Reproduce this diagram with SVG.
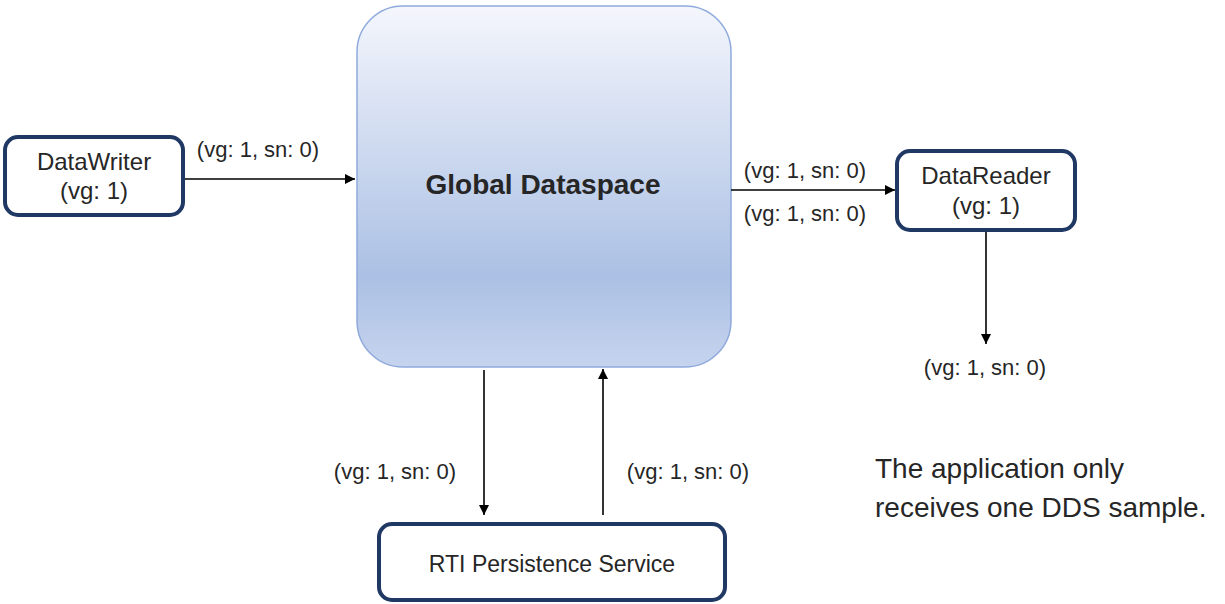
<svg xmlns="http://www.w3.org/2000/svg" width="1225" height="604" viewBox="0 0 1225 604">
<style>
.node{fill:#ffffff;stroke:#203864;stroke-width:4}
.t{font-family:"Liberation Sans",Arial,sans-serif;fill:#262626}
.nt{font-size:24px;text-anchor:middle}
.lbl{font-size:22px;text-anchor:middle}
.conn{stroke:#000;stroke-width:1.6;fill:none;marker-end:url(#ah)}
</style>
<defs>
<linearGradient id="gd" x1="0" y1="0" x2="0" y2="1">
<stop offset="0" stop-color="#f4f6fc"/>
<stop offset="0.75" stop-color="#abc0e4"/>
<stop offset="1" stop-color="#c6d4ee"/>
</linearGradient>
<marker id="ah" markerWidth="10" markerHeight="10" refX="10" refY="5" orient="auto" markerUnits="userSpaceOnUse">
<path d="M0,0 L10,5 L0,10 Z" fill="#000"/>
</marker>
</defs>
<rect width="1225" height="604" fill="#fff"/>
<g id="global-dataspace">
<rect x="357" y="6" width="374" height="361" rx="46" ry="46" fill="url(#gd)" stroke="#8faadc" stroke-width="1.5"/>
<text class="t" x="543" y="194" font-size="28" font-weight="bold" text-anchor="middle" fill="#111">Global Dataspace</text>
</g>
<g id="datawriter">
<rect class="node" x="5" y="137" width="178" height="78" rx="13"/>
<text class="t nt" x="94" y="170">DataWriter</text>
<text class="t nt" x="94" y="199">(vg: 1)</text>
</g>
<g id="datareader">
<rect class="node" x="897" y="151" width="178" height="79" rx="13"/>
<text class="t nt" x="986" y="184">DataReader</text>
<text class="t nt" x="986" y="214">(vg: 1)</text>
</g>
<g id="persistence-service">
<rect class="node" x="379" y="524" width="346" height="76" rx="13"/>
<text class="t" x="552" y="572" font-size="23" text-anchor="middle">RTI Persistence Service</text>
</g>
<g id="connectors">
<line class="conn" x1="185" y1="179" x2="355" y2="179"/>
<line class="conn" x1="731" y1="190" x2="895" y2="190"/>
<line class="conn" x1="986" y1="232" x2="986" y2="344"/>
<line class="conn" x1="484" y1="370" x2="484" y2="515"/>
<line class="conn" x1="603" y1="515" x2="603" y2="369"/>
</g>
<g id="labels">
<text class="t lbl" x="258" y="157">(vg: 1, sn: 0)</text>
<text class="t lbl" x="805" y="178">(vg: 1, sn: 0)</text>
<text class="t lbl" x="805" y="221">(vg: 1, sn: 0)</text>
<text class="t lbl" x="985" y="375">(vg: 1, sn: 0)</text>
<text class="t lbl" x="395" y="479">(vg: 1, sn: 0)</text>
<text class="t lbl" x="688" y="479">(vg: 1, sn: 0)</text>
</g>
<g id="note">
<text class="t" x="875" y="478" font-size="28">The application only</text>
<text class="t" x="875" y="517" font-size="28">receives one DDS sample.</text>
</g>
</svg>
